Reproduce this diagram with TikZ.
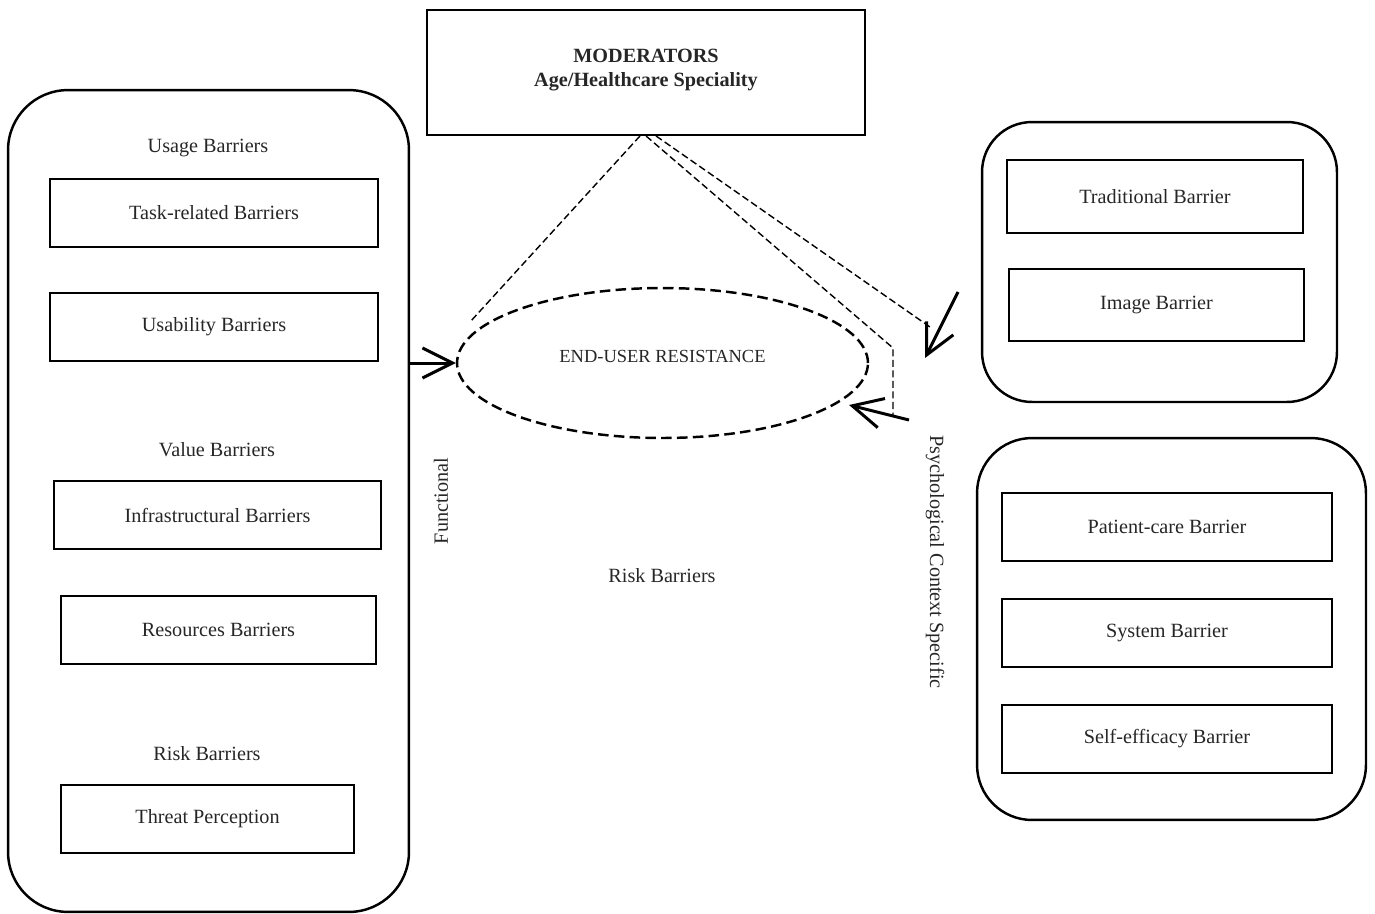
\documentclass[tikz,border=0pt]{standalone}
\usepackage{fontspec}
\setmainfont{Liberation Serif}
\usetikzlibrary{arrows.meta,shapes.geometric}

\begin{document}
\begin{tikzpicture}[x=0.02cm,y=-0.02cm,
   font=\fontsize{11.5pt}{14pt}\selectfont,text=black!85,
   panel/.style={draw,line width=1.4pt,rounded corners=#1,inner sep=0pt},
   box/.style={draw,line width=1.1pt,inner sep=0pt},
   modline/.style={line width=0.8pt,dash pattern=on 4pt off 2pt},
   push/.style={line width=1.7pt,-{Straight Barb[length=6mm,width=6mm]}}]
   \useasboundingbox (0,0) rectangle (1375,913);

   \node[box,minimum width=8.76cm,minimum height=2.5cm,align=center,font=\fontsize{11.5pt}{13.5pt}\bfseries,text depth=0.2cm] (mod) at (646,72.5) {MODERATORS\\Age/Healthcare Speciality};

   \node[panel=1.2cm,minimum width=8.02cm,minimum height=16.44cm] (usage) at (208.5,501) {};
   \node (usagelbl) at (208,148) {Usage Barriers};
   \node[box,minimum width=6.56cm,minimum height=1.36cm] (task) at (214,213) {Task-related Barriers};
   \node[box,minimum width=6.56cm,minimum height=1.36cm] (usab) at (214,327) {Usability Barriers};
   \node (valuelbl) at (217,450) {Value Barriers};
   \node[box,minimum width=6.54cm,minimum height=1.36cm] (infra) at (217.5,515) {Infrastructural Barriers};
   \node[box,minimum width=6.3cm,minimum height=1.36cm] (res) at (218.5,630) {Resources Barriers};
   \node (risklbl) at (207,754) {Risk Barriers};
   \node[box,minimum width=5.86cm,minimum height=1.36cm] (threat) at (207.5,819) {Threat Perception};

   \node[panel=1cm,minimum width=7.1cm,minimum height=5.6cm] (trad) at (1159.5,262) {};
   \node[box,minimum width=5.92cm,minimum height=1.46cm] (tradb) at (1155,196.5) {Traditional Barrier};
   \node[box,minimum width=5.9cm,minimum height=1.44cm] (image) at (1156.5,305) {Image Barrier};

   \node[panel=1.1cm,minimum width=7.78cm,minimum height=7.64cm] (psy) at (1171.5,629) {};
   \node[box,minimum width=6.6cm,minimum height=1.36cm] (patient) at (1167,527) {Patient-care Barrier};
   \node[box,minimum width=6.6cm,minimum height=1.36cm] (system) at (1167,633) {System Barrier};
   \node[box,minimum width=6.6cm,minimum height=1.36cm] (self) at (1167,739) {Self-efficacy Barrier};

   \node[ellipse,draw,line width=1.4pt,dash pattern=on 6pt off 3pt,minimum width=8.22cm,minimum height=3cm,font=\fontsize{10.5pt}{12pt}\selectfont] (eur) at (662.5,363) {\raisebox{0.14cm}[\height][\depth]{END-USER RESISTANCE}};

   \node[rotate=90] (func) at (441,501) {Functional};
   \node (risk) at (662,576) {Risk Barriers};
   \node[rotate=-90] (psylbl) at (935,562) {Psychological Context Specific};

   \coordinate (m1) at (470,322);
   \coordinate (m2) at (893,348);
   \coordinate (m2b) at (893,415);
   \coordinate (m3) at (930,327);
   \coordinate (a1) at (958,292);
   \coordinate (t1) at (925,358);
   \coordinate (a2) at (909,420);
   \coordinate (t2) at (849,405);

   \draw[modline] ([xshift=-0.12cm]mod.south) -- (m1);
   \draw[modline] (mod.south) -- (m2) -- (m2b);
   \draw[modline] ([xshift=0.2cm]mod.south) -- (m3);

   \draw[push] (usage.east |- eur.west) -- (eur.west);
   \draw[push] (a1) -- (t1);
   \draw[push] (a2) -- (t2);
\end{tikzpicture}
\end{document}
